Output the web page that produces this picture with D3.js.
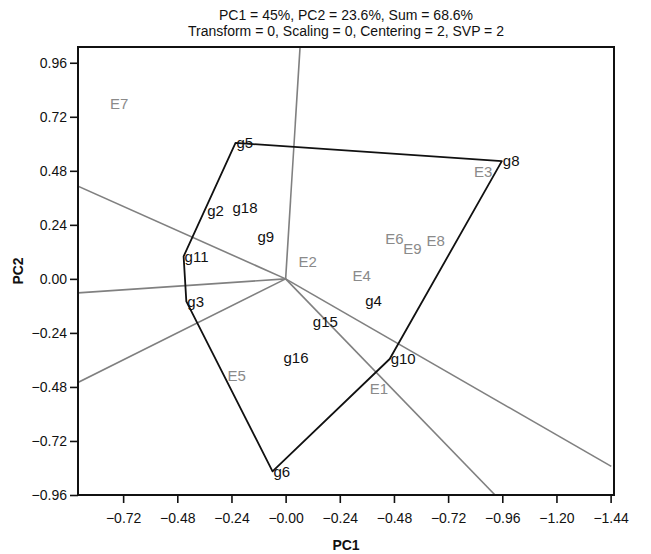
<!DOCTYPE html>
<html><head><meta charset="utf-8">
<script src="https://cdn.jsdelivr.net/npm/d3@7"></script>
<style>body{margin:0;background:#fff}svg{display:block}text{font-family:"Liberation Sans",Arial,sans-serif}</style>
</head><body><div id="chart"></div>
<script>
const titleLines = ["PC1 = 45%, PC2 = 23.6%, Sum = 68.6%", "Transform = 0, Scaling = 0, Centering = 2, SVP = 2"];
const genotypes = ["g5","g8","g10","g6","g3","g11","g2","g18","g9","g16","g15","g4"];
const genoX = [-0.222, 0.958, 0.461, -0.058, -0.440, -0.452, -0.352, -0.240, -0.129, -0.014, 0.116, 0.348];
const genoY = [0.604, 0.523, -0.356, -0.855, -0.100, 0.100, 0.301, 0.316, 0.189, -0.351, -0.191, -0.095];
const hullOrder = ["g5","g8","g10","g6","g3","g11"];
const envs = ["E7","E2","E3","E6","E9","E8","E4","E5","E1"];
const envX = [-0.778, 0.057, 0.835, 0.441, 0.521, 0.624, 0.296, -0.258, 0.373];
const envY = [0.778, 0.074, 0.478, 0.178, 0.135, 0.170, 0.012, -0.429, -0.488];
const rayEndX = [0.064, -0.92, -0.92, -0.92, 1.443, 0.928];
const rayEndY = [1.03, 0.412, -0.062, -0.46, -0.833, -0.96];
const xTickValues = [-0.72,-0.48,-0.24,0,0.24,0.48,0.72,0.96,1.20,1.44];
const xTickLabels = ["\u22120.72","\u22120.48","\u22120.24","\u22120.00","\u22120.24","\u22120.48","\u22120.72","\u22120.96","\u22121.20","\u22121.44"];
const yTickValues = [0.96,0.72,0.48,0.24,0,-0.24,-0.48,-0.72,-0.96];
const yTickLabels = ["0.96","0.72","0.48","0.24","0.00","\u22120.24","\u22120.48","\u22120.72","\u22120.96"];

const W = 651, H = 554;
const L = 78, R = 614, T = 47, B = 495;
const x = d3.scaleLinear().domain([-0.92, 1.455]).range([L, R]);
const y = d3.scaleLinear().domain([-0.96, 1.03]).range([B, T]);

const svg = d3.select("#chart").append("svg").attr("width", W).attr("height", H);

svg.append("clipPath").attr("id","clip").append("rect")
  .attr("x", L).attr("y", T).attr("width", R-L).attr("height", B-T);

// title
svg.selectAll("text.title").data(titleLines).join("text").attr("class","title")
  .attr("x", (L+R)/2).attr("y", (d,i)=>20 + i*16)
  .attr("text-anchor","middle").attr("font-size",14).attr("fill","#111").text(d=>d);

const g = svg.append("g").attr("clip-path","url(#clip)");

// rays
g.selectAll("line.ray").data(rayEndX).join("line").attr("class","ray")
  .attr("x1", x(0)).attr("y1", y(0))
  .attr("x2", (d,i)=>x(rayEndX[i])).attr("y2", (d,i)=>y(rayEndY[i]))
  .attr("stroke","#808080").attr("stroke-width",1.6);

// hull
const hullPts = hullOrder.map(n => { const i = genotypes.indexOf(n); return [genoX[i], genoY[i]]; });
g.append("path").datum(hullPts)
  .attr("d", d3.line().x(d=>x(d[0])).y(d=>y(d[1])).curve(d3.curveLinearClosed))
  .attr("fill","none").attr("stroke","#111").attr("stroke-width",1.8).attr("stroke-linejoin","round");

// env labels
g.selectAll("text.env").data(envs).join("text").attr("class","env")
  .attr("x",(d,i)=>x(envX[i])).attr("y",(d,i)=>y(envY[i]))
  .attr("dy","0.35em").attr("font-size",15).attr("fill","#8a8a8a").text(d=>d);

// genotype labels
g.selectAll("text.geno").data(genotypes).join("text").attr("class","geno")
  .attr("x",(d,i)=>x(genoX[i])+1).attr("y",(d,i)=>y(genoY[i]))
  .attr("dy","0.35em").attr("font-size",15).attr("fill","#111").text(d=>d);

// frame
svg.append("rect").attr("x",L).attr("y",T).attr("width",R-L).attr("height",B-T)
  .attr("fill","none").attr("stroke","#111").attr("stroke-width",2);

// axes
const yAxis = d3.axisLeft(y).tickValues(yTickValues).tickSize(8).tickPadding(3)
  .tickFormat((d,i)=>yTickLabels[i]);
const ya = svg.append("g").attr("transform",`translate(${L},0)`).call(yAxis);
const xAxis = d3.axisBottom(x).tickValues(xTickValues).tickSize(8).tickPadding(10)
  .tickFormat((d,i)=>xTickLabels[i]);
const xa = svg.append("g").attr("transform",`translate(0,${B})`).call(xAxis);
[ya, xa].forEach(a => {
  a.select(".domain").remove();
  a.selectAll(".tick line").attr("stroke","#111").attr("stroke-width",1.6);
  a.selectAll(".tick text").attr("font-size",14).attr("fill","#111")
    .attr("font-family",'"Liberation Sans",Arial,sans-serif');
});

svg.append("text").attr("x",(L+R)/2).attr("y",550).attr("text-anchor","middle")
  .attr("font-size",14).attr("font-weight","bold").attr("fill","#111").text("PC1");
svg.append("text").attr("transform",`translate(23,${(T+B)/2}) rotate(-90)`)
  .attr("text-anchor","middle").attr("font-size",14).attr("font-weight","bold").attr("fill","#111").text("PC2");
</script></body></html>
